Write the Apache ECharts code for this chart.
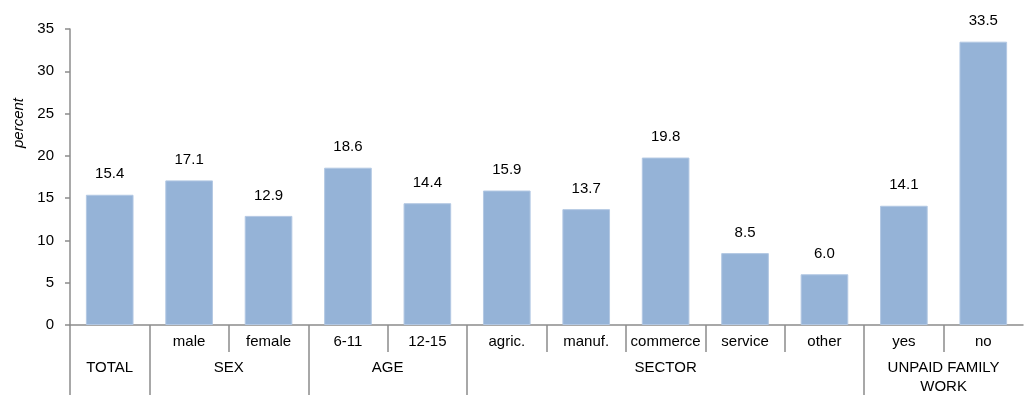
<!DOCTYPE html>
<html>
<head>
<meta charset="utf-8">
<script src="https://cdn.jsdelivr.net/npm/echarts@6/dist/echarts.min.js"></script>
<style>
  html, body { margin: 0; padding: 0; background: #fff; }
  #chart { width: 1025px; height: 396px; }
</style>
</head>
<body>
<div id="chart"></div>
<script>
// Sub-category labels along the axis (TOTAL has no sub label)
const subLabels = ['', 'male', 'female', '6-11', '12-15', 'agric.', 'manuf.', 'commerce', 'service', 'other', 'yes', 'no'];
// Share of working children, percent
const values = [15.4, 17.1, 12.9, 18.6, 14.4, 15.9, 13.7, 19.8, 8.5, 6.0, 14.1, 33.5];
// Group headings and how many bars each spans
const groupNames = ['TOTAL', 'SEX', 'AGE', 'SECTOR', 'UNPAID FAMILY\nWORK'];
const groupSizes = [1, 2, 2, 5, 2];
// Y-axis ticks
const yTicks = [0, 5, 10, 15, 20, 25, 30, 35];

// Group boundaries, centres, and the inner dividers between sub-categories
const groupEdges = [0];
groupSizes.forEach(s => groupEdges.push(groupEdges[groupEdges.length - 1] + s));
const groupCentres = groupSizes.map((s, i) => groupEdges[i] + s / 2);
const innerEdges = [];
groupSizes.forEach((s, i) => {
  for (let k = 1; k < s; k++) innerEdges.push(groupEdges[i] + k);
});
const groupStarts = groupEdges.slice(0, -1);
const total = groupEdges[groupEdges.length - 1];

const font = '"Liberation Sans", Arial, sans-serif';
const axisGrey = '#8c8c8c';
const fs = 15;

const chart = echarts.init(document.getElementById('chart'));
chart.setOption({
  animation: false,
  backgroundColor: '#fff',
  textStyle: { fontFamily: font },
  grid: { left: 70, right: 2, top: 29, bottom: 70, containLabel: false },
  graphic: [{
    type: 'text',
    x: 19, y: 123,
    rotation: Math.PI / 2,
    style: {
      text: 'percent',
      font: 'italic 15px ' + font,
      fill: '#000',
      align: 'center',
      verticalAlign: 'middle'
    }
  }],
  xAxis: [
    {
      type: 'category',
      data: subLabels,
      position: 'bottom',
      axisLine: { show: true, lineStyle: { color: axisGrey, width: 1.5 } },
      axisTick: { show: false },
      axisLabel: { interval: 0, margin: 9, color: '#000', fontSize: fs, fontFamily: font }
    },
    {
      // group dividers and headings
      type: 'value',
      min: 0, max: total,
      position: 'bottom',
      axisLine: { show: false },
      splitLine: { show: false },
      axisTick: { show: true, customValues: groupStarts, length: 70, lineStyle: { color: axisGrey, width: 1.5 } },
      axisLabel: {
        show: true,
        customValues: groupCentres,
        margin: 33,
        color: '#000',
        fontSize: fs,
        fontFamily: font,
        lineHeight: 19,
        verticalAlign: 'top',
        formatter: v => {
          const i = groupCentres.findIndex(c => Math.abs(c - v) < 1e-6);
          return i >= 0 ? groupNames[i] : '';
        }
      }
    },
    {
      // short dividers between sub-categories
      type: 'value',
      min: 0, max: total,
      position: 'bottom',
      axisLine: { show: false },
      splitLine: { show: false },
      axisTick: { show: true, customValues: innerEdges, length: 27, lineStyle: { color: axisGrey, width: 1.5 } },
      axisLabel: { show: false }
    }
  ],
  yAxis: {
    type: 'value',
    min: yTicks[0],
    max: yTicks[yTicks.length - 1],
    interval: 5,
    axisLine: { show: true, lineStyle: { color: axisGrey, width: 1.5 } },
    axisTick: { show: true, length: 5, lineStyle: { color: axisGrey, width: 1.5 } },
    splitLine: { show: false },
    axisLabel: { margin: 16, color: '#000', fontSize: fs, fontFamily: font }
  },
  series: [{
    type: 'bar',
    xAxisIndex: 0,
    data: values,
    barCategoryGap: '40%',
    itemStyle: { color: '#95b3d7', borderColor: '#b3c8e3', borderWidth: 1 },
    label: {
      show: true,
      position: 'top',
      distance: 13,
      color: '#000',
      fontSize: fs,
      fontFamily: font,
      formatter: p => p.value.toFixed(1)
    }
  }]
});
</script>
</body>
</html>
